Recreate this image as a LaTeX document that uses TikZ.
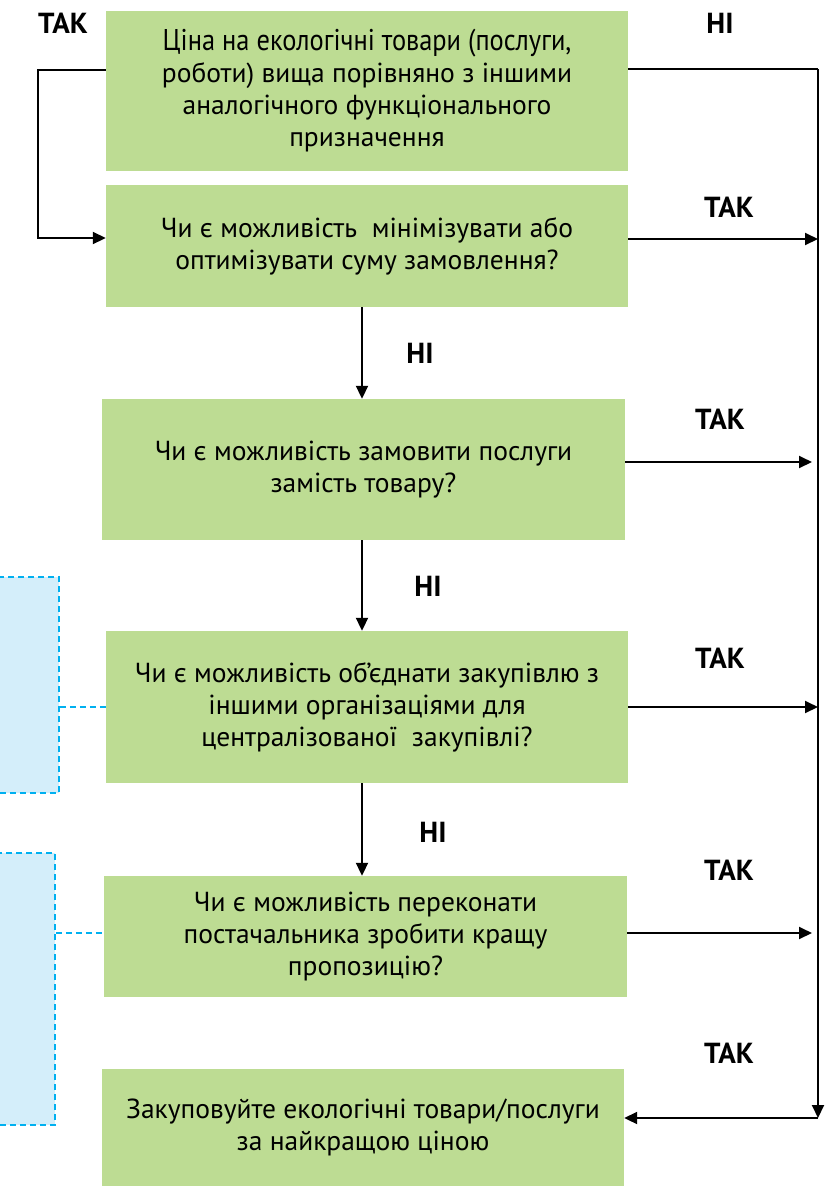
\documentclass[tikz,border=0pt]{standalone}
\usepackage{fontspec}
\setmainfont{PT Sans}
\newfontfamily\condfont[FakeStretch=0.88]{PT Sans}
\usetikzlibrary{arrows.meta}
\definecolor{boxgreen}{RGB}{189,220,147}
\definecolor{noteblue}{RGB}{212,238,250}
\definecolor{dashblue}{RGB}{0,176,240}
\begin{document}
\begin{tikzpicture}[x=1pt,y=-1pt,
  box/.style={fill=boxgreen, minimum width=522pt, inner sep=0pt, align=center,
              font=\fontsize{27.5}{32}\selectfont},
  lbl/.style={font=\fontsize{29}{32}\selectfont\bfseries, inner sep=0pt},
  flow/.style={line width=1.9pt, -{Triangle[length=13pt,width=12pt]}},
  plain/.style={line width=1.9pt},
  note/.style={fill=noteblue, draw=dashblue, line width=1.8pt, dash pattern=on 6pt off 4pt, inner sep=0pt},
  link/.style={draw=dashblue, line width=1.8pt, dash pattern=on 6pt off 4pt}]
\useasboundingbox (0,0) rectangle (839,1187);
\clip (0,0) rectangle (839,1187);

% side notes (cut off at the left edge)
\node[note, minimum width=79pt, minimum height=216pt] (n1) at (19.5,685) {};
\node[note, minimum width=75pt, minimum height=272pt] (n2) at (17.5,989) {};

% main boxes
\node[box, minimum height=160pt] (b1) at (367,91)
  {\condfont\fontsize{30}{31.5}\selectfont Ціна на екологічні товари (послуги,\\роботи) вища порівняно з іншими\\аналогічного функціонального\\призначення};
\node[box, minimum height=122pt] (b2) at (367,246)
  {Чи є можливість\ \ мінімізувати або\\оптимізувати суму замовлення?};
\node[box, minimum width=523pt, minimum height=141pt] (b3) at (363.5,469.5)
  {Чи є можливість замовити послуги\\замість товару?};
\node[box, minimum height=152pt] (b4) at (367,707)
  {Чи є можливість об’єднати закупівлю з\\іншими організаціями для\\централізованої\ \ закупівлі?};
\node[box, minimum width=523pt, minimum height=121pt] (b5) at (365.5,936.5)
  {Чи є можливість переконати\\постачальника зробити кращу\\пропозицію?};
\node[box, minimum height=117pt] (b6) at (363,1127.5)
  {Закуповуйте екологічні товари/послуги\\за найкращою ціною};

% right collector line
\coordinate (r1) at (818,69);
\coordinate (rb) at (818,1118);
\draw[plain] (b1.east |- r1) -- (r1);
\draw[flow] (r1) -- (rb);
\draw[flow] (rb) -- (b6.east |- rb);

% YES arrows to the collector
\draw[flow] (b2.east |- 0,239) -- (r1 |- 0,239);
\draw[flow] (b3.east |- 0,462) -- (812,462);
\draw[flow] (b4.east |- 0,707) -- (r1 |- 0,707);
\draw[flow] (b5.east |- 0,933) -- (812,933);

% left loop
\draw[flow] (b1.west |- 0,70) -- (38,70) -- (38,238) -- (b2.west |- 0,238);

% NO arrows down
\draw[flow] (b2.south -| 362,0) -- (b3.north -| 362,0);
\draw[flow] (b3.south -| 362,0) -- (b4.north -| 362,0);
\draw[flow] (b4.south -| 362,0) -- (b5.north -| 362,0);

% dashed links to notes
\draw[link] (n1.east |- b4.west) -- (b4.west);
\draw[link] (n2.east |- 0,933) -- (b5.west |- 0,933);

% labels
\node[lbl] (t1) at (63,23) {ТАК};
\node[lbl] (h1) at (720,23) {НІ};
\node[lbl] (t2) at (729,207) {ТАК};
\node[lbl] (h2) at (420,353) {НІ};
\node[lbl] (t3) at (720,419) {ТАК};
\node[lbl] (h3) at (428,586) {НІ};
\node[lbl] (t4) at (720,658) {ТАК};
\node[lbl] (h4) at (433,832) {НІ};
\node[lbl] (t5) at (729,870) {ТАК};
\node[lbl] (t6) at (729,1053) {ТАК};
\end{tikzpicture}
\end{document}
